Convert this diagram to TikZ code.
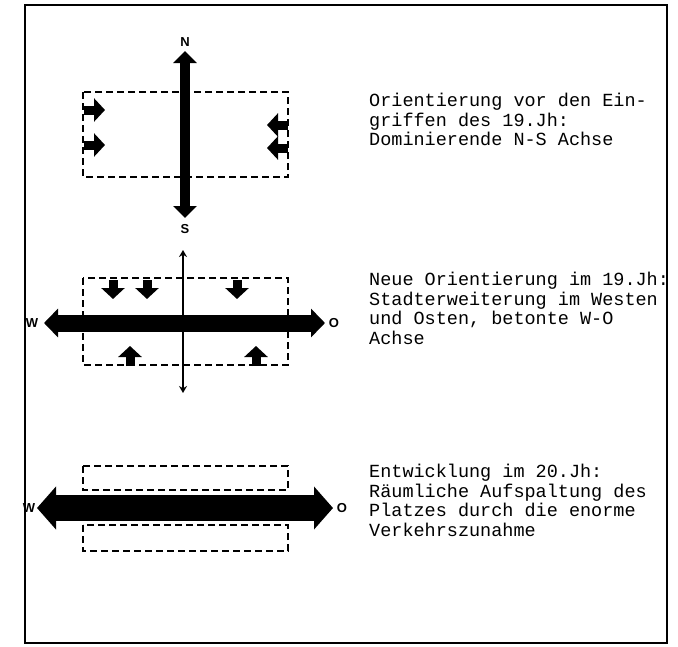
\documentclass[tikz,border=0pt]{standalone}
\usepackage{fontspec}
\setsansfont{Liberation Sans}
\setmonofont{Liberation Mono}
\usetikzlibrary{arrows.meta,positioning}

\begin{document}
\begin{tikzpicture}[
    x=1pt, y=-1pt,
    lbl/.style={font=\sffamily\bfseries\fontsize{13}{13}\selectfont, inner sep=0pt},
    txt/.style={font=\ttfamily\fontsize{18.5}{19.5}\selectfont, align=left, anchor=north west, inner sep=0pt},
    zone/.style={draw, line width=1.8pt, dash pattern=on 7pt off 4pt},
    push/.style={line width=9pt, -{Triangle[width=23pt,length=11pt]}},
    nsaxis/.style={line width=10pt, {Triangle[width=23pt,length=12pt]}-{Triangle[width=23pt,length=12pt]}},
    thinaxis/.style={line width=2.5pt, {Stealth[width=8pt,length=7pt]}-{Stealth[width=8pt,length=7pt]}},
    woaxis/.style={line width=17pt, {Triangle[width=28pt,length=14pt]}-{Triangle[width=28pt,length=14pt]}},
    traffic/.style={line width=26pt, {Triangle[width=42pt,length=19pt]}-{Triangle[width=42pt,length=19pt]}}
]
\useasboundingbox (0,0) rectangle (678,646);

% frame
\draw[line width=1.5pt] (25,5) rectangle (667,643);

% before 19th century
\draw[zone] (83,92) rectangle (288,177);
\node[lbl] (N1) at (185,42) {N};
\node[lbl] (S1) at (185,229) {S};
\coordinate (n1) at (185,51);
\coordinate (s1) at (185,218);
\draw[nsaxis] (s1) -- (n1);
\foreach \y in {110,145} \draw[push] (84,\y) -- (105,\y);
\foreach \y in {125,148} \draw[push] (288,\y) -- (267,\y);

% 19th century
\draw[zone] (83,278) rectangle (288,365);
\coordinate (n2) at (183,250);
\coordinate (s2) at (183,393);
\draw[thinaxis] (s2) -- (n2);
\node[lbl] (W2) at (32,323) {W};
\node[lbl] (O2) at (334,323) {O};
\coordinate (w2) at (44,323);
\coordinate (o2) at (325,323);
\draw[woaxis] (w2) -- (o2);
\foreach \x in {113,147,237} \draw[push] (\x,280) -- (\x,299);
\foreach \x in {130,256} \draw[push] (\x,366) -- (\x,346);

% 20th century
\draw[zone] (83,466) rectangle (288,490);
\draw[zone] (83,525) rectangle (288,551);
\node[lbl] (W3) at (29,508) {W};
\node[lbl] (O3) at (342,508) {O};
\coordinate (w3) at (37,508);
\coordinate (o3) at (333,508);
\draw[traffic] (w3) -- (o3);

% captions
\node[txt] (t1) at (369,93) {Orientierung vor den Ein-\\griffen des 19.Jh:\\Dominierende N-S Achse};
\node[txt] (t2) at (369,272) {Neue Orientierung im 19.Jh:\\Stadterweiterung im Westen\\und Osten, betonte W-O\\Achse};
\node[txt] (t3) at (369,464) {Entwicklung im 20.Jh:\\Räumliche Aufspaltung des\\Platzes durch die enorme\\Verkehrszunahme};
\end{tikzpicture}
\end{document}
